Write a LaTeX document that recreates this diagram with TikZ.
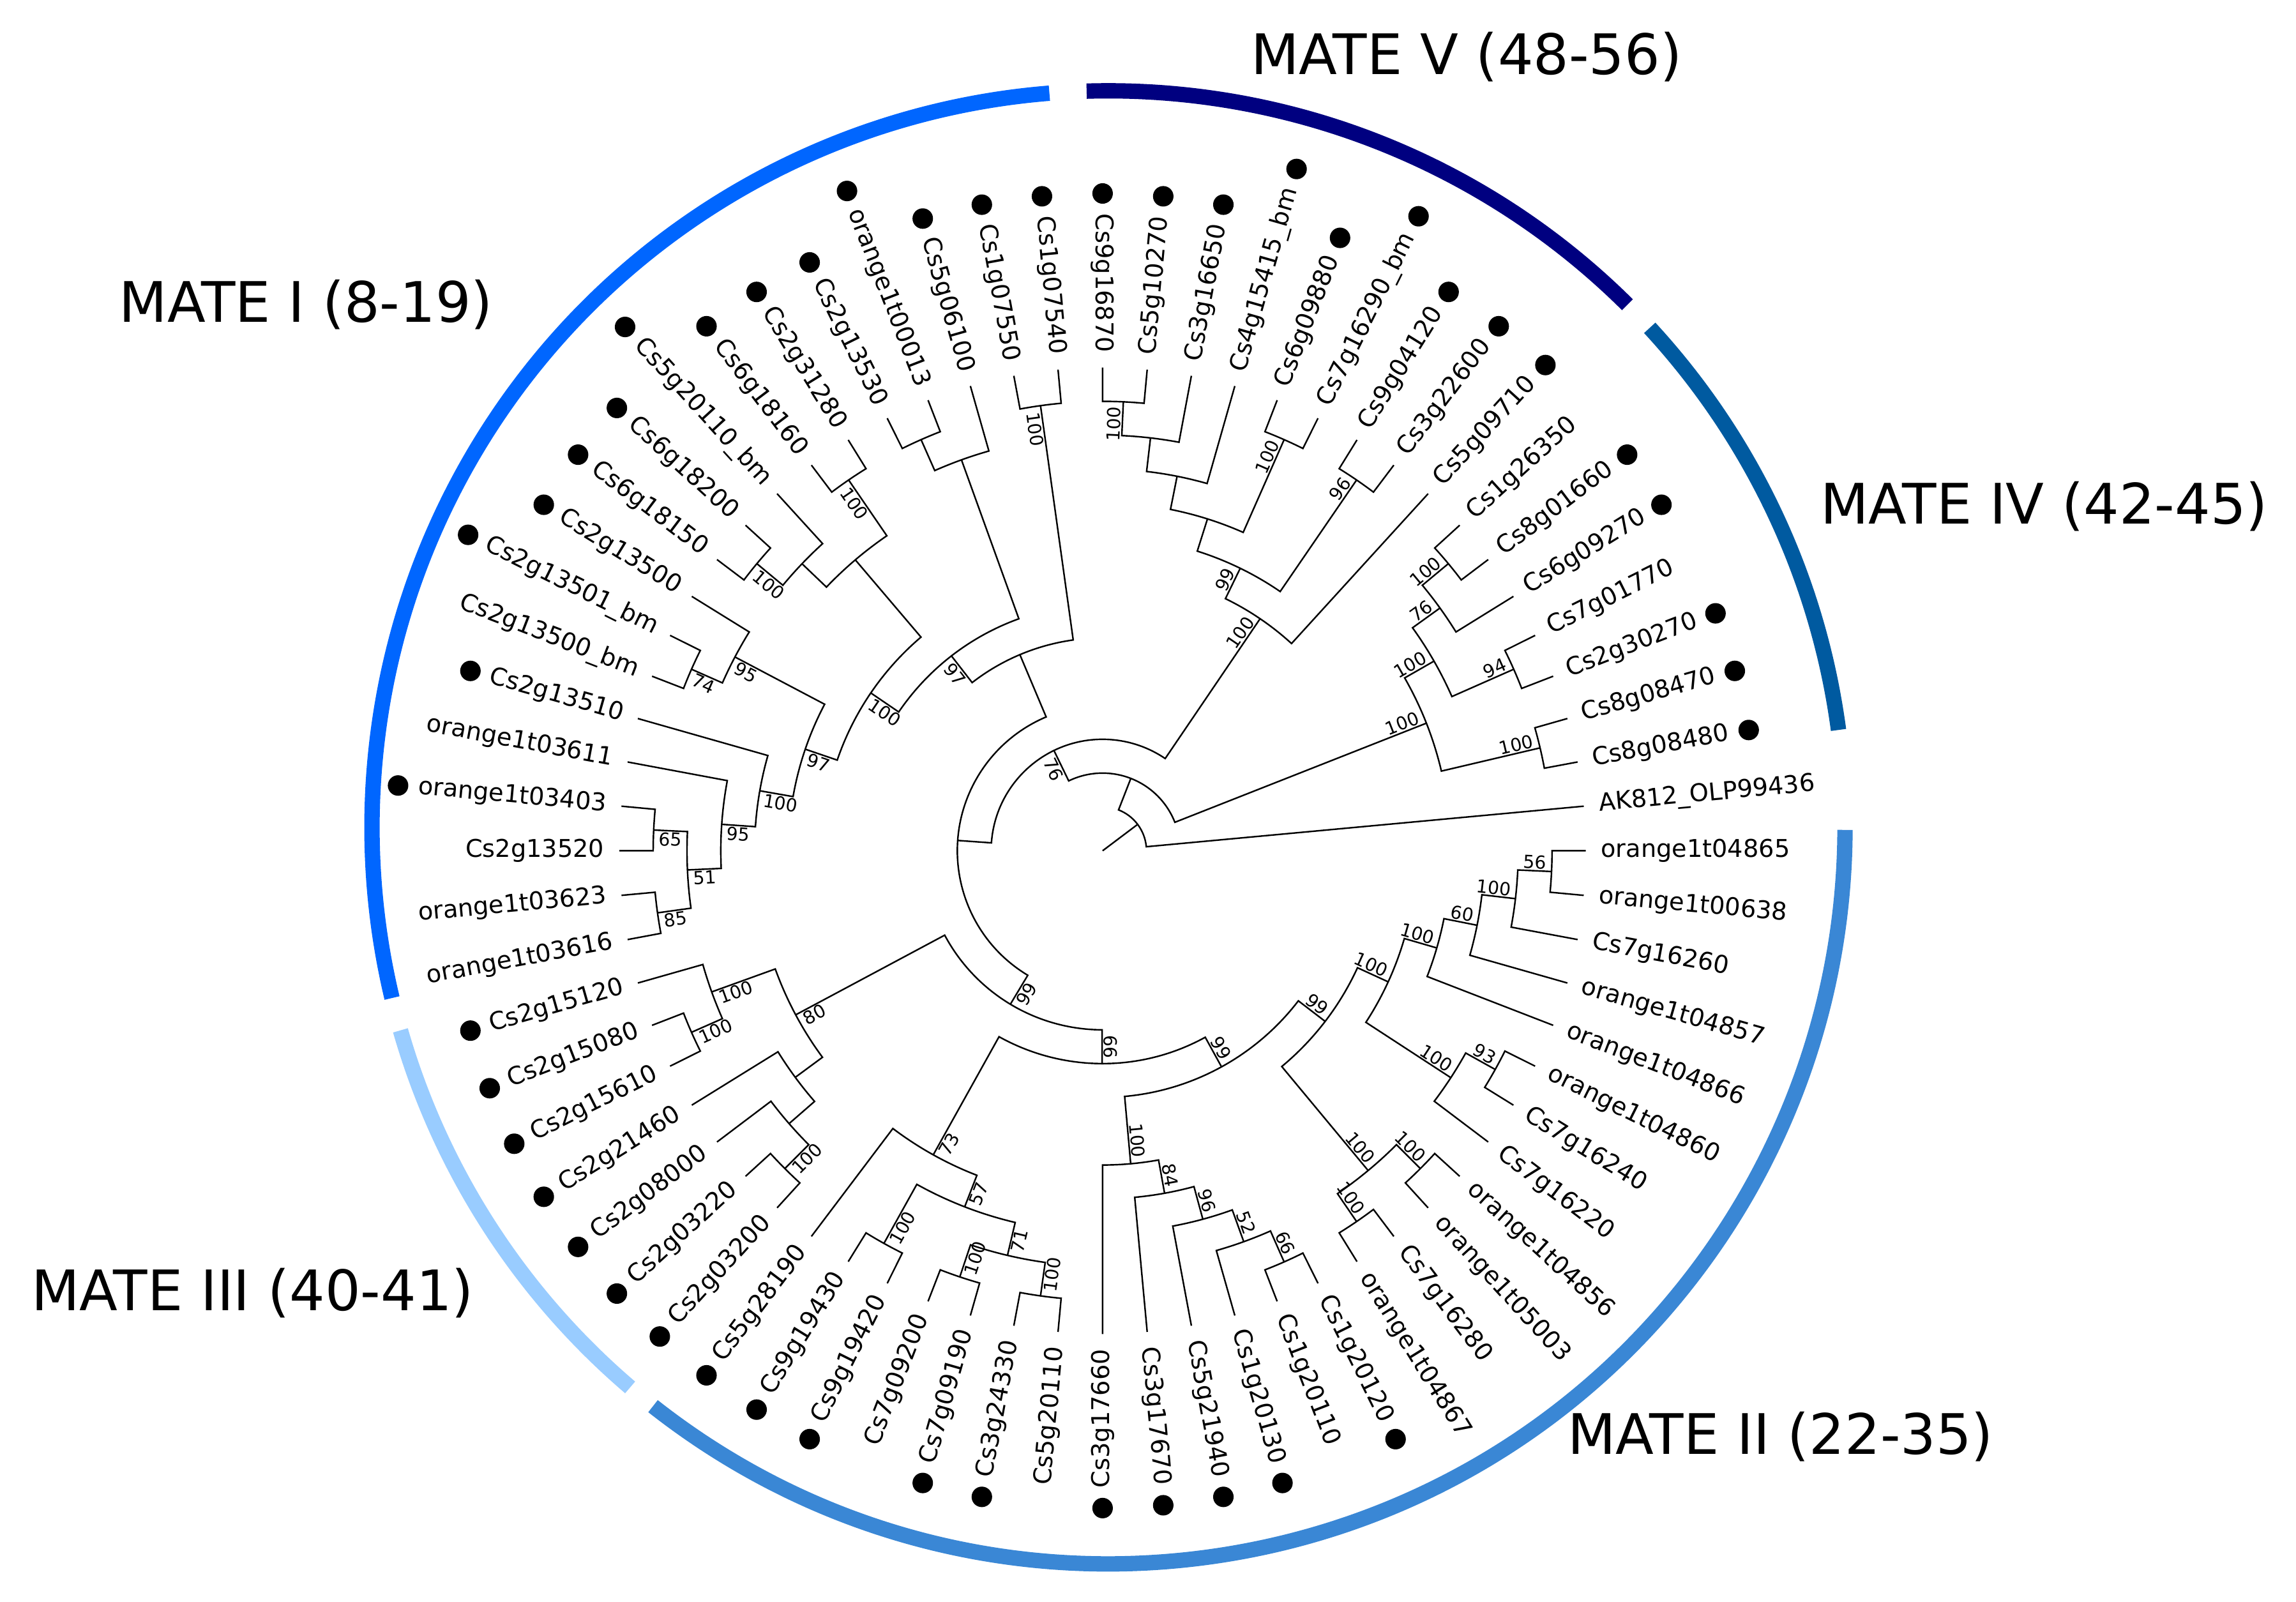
\documentclass[tikz,border=0pt]{standalone}
\usepackage{fontspec}
\setmainfont{DejaVu Sans}

\definecolor{mateone}{RGB}{0,102,255}
\definecolor{matetwo}{RGB}{58,135,213}
\definecolor{matethree}{RGB}{153,204,255}
\definecolor{matefour}{RGB}{0,90,160}
\definecolor{matefive}{RGB}{0,0,128}

\newcommand{\leaffont}{\fontsize{9.5}{11}\selectfont}
\newcommand{\bsfont}{\fontsize{7}{8}\selectfont}
\newcommand{\matefont}{\fontsize{21.7}{26}\selectfont}

\tikzstyle{branch} = [line width=0.6pt, draw=black]
\tikzstyle{leaflabel} = [inner sep=0pt, font=\leaffont]
\tikzstyle{bootlabel} = [inner sep=0.5pt, font=\bsfont]
\tikzstyle{matelabel} = [inner sep=0pt, font=\matefont]
\tikzstyle{band} = [line width=0.21cm]

% polar layout: all tips on one circle, inner nodes one step in per level
\newcommand{\angstep}{5.294118}
\newcommand{\rtip}{6.6}
\newcommand{\rstep}{0.4616}
\newcommand{\rlab}{6.8}
\newcommand{\dotgap}{0.27}
\newcommand{\dotrad}{0.14}

\newcommand{\leaf}[4]{%
  \pgfmathsetmacro{\lfang}{\angstep*(1-#2)}%
  \expandafter\xdef\csname ang@#1\endcsname{\lfang}%
  \coordinate (#1) at (\lfang:\rtip);
  \pgfmathtruncatemacro{\lfflip}{(\lfang>-270.01 && \lfang<-89.99) ? 1 : 0}%
  \ifnum\lfflip=1
    \node (t#1) [leaflabel, anchor=east, rotate=\lfang+180] at (\lfang:\rlab) {#3};
    \ifnum#4=1 \fill ([shift={(\lfang:\dotgap)}]t#1.west) circle (\dotrad);\fi
  \else
    \node (t#1) [leaflabel, anchor=west, rotate=\lfang] at (\lfang:\rlab) {#3};
    \ifnum#4=1 \fill ([shift={(\lfang:\dotgap)}]t#1.east) circle (\dotrad);\fi
  \fi}

\newcommand{\clade}[5]{%
  \pgfmathsetmacro{\aone}{\csname ang@#2\endcsname}%
  \pgfmathsetmacro{\atwo}{\csname ang@#3\endcsname}%
  \pgfmathsetmacro{\amid}{(\aone+\atwo)/2}%
  \pgfmathsetmacro{\crad}{\rtip-\rstep*#4}%
  \expandafter\xdef\csname ang@#1\endcsname{\amid}%
  \coordinate (#1) at (\amid:\crad);
  \draw [branch] (#2) -- (\aone:\crad) arc[start angle=\aone, end angle=\atwo, radius=\crad] -- (#3);
  \ifx&#5&\else
    \pgfmathsetmacro{\brad}{\crad-0.05}%
    \pgfmathtruncatemacro{\bflip}{(\amid>-270.01 && \amid<-89.99) ? 1 : 0}%
    \ifnum\bflip=1
      \node (b#1) [bootlabel, anchor=north west, rotate=\amid+180] at (\amid:\brad) {#5};
    \else
      \node (b#1) [bootlabel, anchor=south east, rotate=\amid] at (\amid:\brad) {#5};
    \fi
  \fi}

\begin{document}
\begin{tikzpicture}
\useasboundingbox (-15.06,-10.26) rectangle (16.30,11.62);

% group bands
\draw [band, mateone] ([shift={(0.08,0.32)}]94.6:10.06) arc[start angle=94.6, end angle=193.4, radius=10.06];
\draw [band, matethree] ([shift={(0.08,0.32)}]196:10.06) arc[start angle=196, end angle=229.5, radius=10.06];
\draw [band, matetwo] ([shift={(0.08,0.32)}]231.8:10.06) arc[start angle=231.8, end angle=359.8, radius=10.06];
\draw [band, matefour] ([shift={(0.08,0.32)}]7.6:10.06) arc[start angle=7.6, end angle=42.7, radius=10.06];
\draw [band, matefive] ([shift={(0.08,0.32)}]45.2:10.06) arc[start angle=45.2, end angle=91.7, radius=10.06];

\node (mateV) [matelabel] at (4.97,10.84) {MATE V (48-56)};
\node (mateI) [matelabel] at (-10.88,7.46) {MATE I (8-19)};
\node (mateIV) [matelabel] at (12.86,4.70) {MATE IV (42-45)};
\node (mateIII) [matelabel] at (-11.61,-6.04) {MATE III (40-41)};
\node (mateII) [matelabel] at (9.26,-8.00) {MATE II (22-35)};

% leaves, clockwise from the right
\leaf{l1}{1}{orange1t04865}{0}
\leaf{l2}{2}{orange1t00638}{0}
\leaf{l3}{3}{Cs7g16260}{0}
\leaf{l4}{4}{orange1t04857}{0}
\leaf{l5}{5}{orange1t04866}{0}
\leaf{l6}{6}{orange1t04860}{0}
\leaf{l7}{7}{Cs7g16240}{0}
\leaf{l8}{8}{Cs7g16220}{0}
\leaf{l9}{9}{orange1t04856}{0}
\leaf{l10}{10}{orange1t05003}{0}
\leaf{l11}{11}{Cs7g16280}{0}
\leaf{l12}{12}{orange1t04867}{0}
\leaf{l13}{13}{Cs1g20120}{1}
\leaf{l14}{14}{Cs1g20110}{0}
\leaf{l15}{15}{Cs1g20130}{1}
\leaf{l16}{16}{Cs5g21940}{1}
\leaf{l17}{17}{Cs3g17670}{1}
\leaf{l18}{18}{Cs3g17660}{1}
\leaf{l19}{19}{Cs5g20110}{0}
\leaf{l20}{20}{Cs3g24330}{1}
\leaf{l21}{21}{Cs7g09190}{1}
\leaf{l22}{22}{Cs7g09200}{0}
\leaf{l23}{23}{Cs9g19420}{1}
\leaf{l24}{24}{Cs9g19430}{1}
\leaf{l25}{25}{Cs5g28190}{1}
\leaf{l26}{26}{Cs2g03200}{1}
\leaf{l27}{27}{Cs2g03220}{1}
\leaf{l28}{28}{Cs2g08000}{1}
\leaf{l29}{29}{Cs2g21460}{1}
\leaf{l30}{30}{Cs2g15610}{1}
\leaf{l31}{31}{Cs2g15080}{1}
\leaf{l32}{32}{Cs2g15120}{1}
\leaf{l33}{33}{orange1t03616}{0}
\leaf{l34}{34}{orange1t03623}{0}
\leaf{l35}{35}{Cs2g13520}{0}
\leaf{l36}{36}{orange1t03403}{1}
\leaf{l37}{37}{orange1t03611}{0}
\leaf{l38}{38}{Cs2g13510}{1}
\leaf{l39}{39}{Cs2g13500\_bm}{0}
\leaf{l40}{40}{Cs2g13501\_bm}{1}
\leaf{l41}{41}{Cs2g13500}{1}
\leaf{l42}{42}{Cs6g18150}{1}
\leaf{l43}{43}{Cs6g18200}{1}
\leaf{l44}{44}{Cs5g20110\_bm}{1}
\leaf{l45}{45}{Cs6g18160}{1}
\leaf{l46}{46}{Cs2g31280}{1}
\leaf{l47}{47}{Cs2g13530}{1}
\leaf{l48}{48}{orange1t00013}{1}
\leaf{l49}{49}{Cs5g06100}{1}
\leaf{l50}{50}{Cs1g07550}{1}
\leaf{l51}{51}{Cs1g07540}{1}
\leaf{l52}{52}{Cs9g16870}{1}
\leaf{l53}{53}{Cs5g10270}{1}
\leaf{l54}{54}{Cs3g16650}{1}
\leaf{l55}{55}{Cs4g15415\_bm}{1}
\leaf{l56}{56}{Cs6g09880}{1}
\leaf{l57}{57}{Cs7g16290\_bm}{1}
\leaf{l58}{58}{Cs9g04120}{1}
\leaf{l59}{59}{Cs3g22600}{1}
\leaf{l60}{60}{Cs5g09710}{1}
\leaf{l61}{61}{Cs1g26350}{0}
\leaf{l62}{62}{Cs8g01660}{1}
\leaf{l63}{63}{Cs6g09270}{1}
\leaf{l64}{64}{Cs7g01770}{0}
\leaf{l65}{65}{Cs2g30270}{1}
\leaf{l66}{66}{Cs8g08470}{1}
\leaf{l67}{67}{Cs8g08480}{1}
\leaf{l68}{68}{AK812\_OLP99436}{0}

% MATE II
\clade{n56}{l1}{l2}{1}{56}
\clade{n100a}{n56}{l3}{2}{100}
\clade{n60}{n100a}{l4}{3}{60}
\clade{nup}{n60}{l5}{4}{100}
\clade{n93}{l6}{l7}{1}{93}
\clade{nlow}{n93}{l8}{2}{100}
\clade{na}{nup}{nlow}{5}{100}
\clade{n910}{l9}{l10}{1}{100}
\clade{n1112}{l11}{l12}{1}{100}
\clade{nb}{n910}{n1112}{2}{100}
\clade{bbG}{nb}{na}{6}{99}
\clade{n66}{l13}{l14}{1}{66}
\clade{n52}{n66}{l15}{2}{52}
\clade{n96}{n52}{l16}{3}{96}
\clade{n84}{n96}{l17}{4}{84}
\clade{n100c}{n84}{l18}{5}{100}
\clade{bbF}{n100c}{bbG}{7}{99}
\clade{n1920}{l19}{l20}{1}{100}
\clade{n2122}{l21}{l22}{1}{100}
\clade{n71}{n2122}{n1920}{2}{71}
\clade{n2324}{l23}{l24}{1}{100}
\clade{n57}{n2324}{n71}{3}{57}
\clade{n73}{l25}{n57}{4}{73}
\clade{bbE}{n73}{bbF}{8}{99}
% MATE III
\clade{n2627}{l26}{l27}{1}{100}
\clade{n28}{n2627}{l28}{2}{}
\clade{n29}{n28}{l29}{3}{}
\clade{n3031}{l30}{l31}{1}{100}
\clade{n32}{n3031}{l32}{2}{100}
\clade{n80}{n29}{n32}{4}{80}
\clade{bbD}{n80}{bbE}{9}{99}
% MATE I
\clade{n85}{l33}{l34}{1}{85}
\clade{n65}{l35}{l36}{1}{65}
\clade{n51}{n85}{n65}{2}{51}
\clade{n95b}{n51}{l37}{3}{95}
\clade{nc2}{n95b}{l38}{4}{100}
\clade{n74}{l39}{l40}{1}{74}
\clade{n95}{n74}{l41}{2}{95}
\clade{nr2}{nc2}{n95}{5}{97}
\clade{n4243}{l42}{l43}{1}{100}
\clade{n44}{n4243}{l44}{2}{}
\clade{n4546}{l45}{l46}{1}{100}
\clade{nr1}{n44}{n4546}{3}{}
\clade{nr}{nr2}{nr1}{6}{100}
\clade{n4748}{l47}{l48}{1}{}
\clade{n49}{n4748}{l49}{2}{}
\clade{nq}{nr}{n49}{7}{97}
\clade{n5051}{l50}{l51}{1}{100}
\clade{np}{nq}{n5051}{8}{}
\clade{bbC}{bbD}{np}{10}{}
% MATE V
\clade{nva}{l52}{l53}{1}{100}
\clade{nvb}{nva}{l54}{2}{}
\clade{nvc}{nvb}{l55}{3}{}
\clade{nvd}{l56}{l57}{1}{100}
\clade{nvcd}{nvc}{nvd}{4}{}
\clade{nve}{l58}{l59}{1}{96}
\clade{nvx}{nvcd}{nve}{5}{99}
\clade{nv}{nvx}{l60}{6}{100}
% MATE IV
\clade{n6162}{l61}{l62}{1}{100}
\clade{n63}{n6162}{l63}{2}{76}
\clade{n94}{l64}{l65}{1}{94}
\clade{n100d}{n63}{n94}{3}{100}
\clade{n6667}{l66}{l67}{1}{100}
\clade{niv}{n100d}{n6667}{4}{100}
% backbone
\clade{bbB}{bbC}{nv}{11}{76}
\clade{bbA}{bbB}{niv}{12}{}
\clade{nroot}{bbA}{l68}{13}{}
\coordinate (centre) at (0,0);
\draw [branch] (centre) -- (nroot);
\end{tikzpicture}
\end{document}
